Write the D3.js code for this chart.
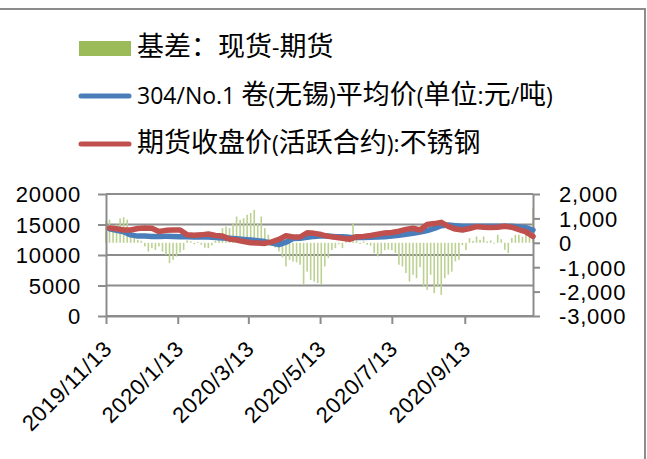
<!DOCTYPE html>
<html>
<head>
<meta charset="utf-8">
<script src="https://cdn.jsdelivr.net/npm/d3@7"></script>
<style>
  body { margin: 0; background: #fff; }
  svg { display: block; }
</style>
</head>
<body>
<svg id="chart" width="647" height="459"></svg>
<script>
// basis bars: one reading every 3 days from 2019/11/13
const barStart = '2019-11-13';
const barStep = 3;
const basis = [
  900, 950, 680, 750, 1000, 1050, 950, 600, 300, 120,
  80, -150, -360, -220, -290, -150, -360, -490, -830, -700,
  -560, -400, -290, 100, 60, -60, 40, -80, -200, -220,
  -100, 80, 400, 600, 670, 600, 810, 1080, 940, 1010,
  1150, 1220, 1350, 810, 1080, 600, 330, 100, -200, -360,
  -600, -970, -700, -770, -800, -900, -1720, -1180, -1520, -1590,
  -1650, -1720, -970, -630, -300, -220, -60, -220, 80, 300,
  810, 100, -50, 60, -80, -120, -420, -560, -450, -300,
  -280, -300, -420, -900, -970, -1240, -1590, -1310, -1450, -1000,
  -1800, -1930, -1310, -2060, -1800, -2130, -1450, -1300, -1180, -760,
  -700, -100, -300, 190, 80, 260, 120, 260, 60, 100,
  -40, 330, 150, -290, -420, 200, 330, 330, 250, 400,
  330, 1430
];

// price lines: one reading every 6 days from 2019/11/16
const lineStart = '2019-11-16';
const lineStep = 6;
const spotPrice = [
  14300, 14050, 13800, 13300, 13100, 13100, 13050, 13050, 13060, 13050,
  13000, 13000, 12970, 12950, 12950, 12850, 12800, 12730, 12650, 12550,
  12460, 12350, 12200, 11950, 11700, 12100, 12700, 12730, 12900, 13050,
  13170, 13100, 13000, 13000, 12900, 12850, 12850, 12900, 12950, 13000,
  13100, 13250, 13400, 13550, 13750, 14000, 14350, 14800, 14900, 14800,
  14700, 14700, 14700, 14700, 14700, 14700, 14700, 14700, 14600, 14480,
  14100
];
const futuresPrice = [
  14420, 14300, 14100, 14100, 14350, 14420, 14380, 13850, 14040, 14100,
  14100, 13300, 13250, 13300, 13450, 13200, 13100, 12600, 12450, 12200,
  12020, 11950, 11900, 12150, 12550, 13150, 12950, 12950, 13650, 13550,
  13350, 13050, 12900, 12750, 12570, 13000, 13050, 13200, 13400, 13600,
  13700, 13900, 14200, 14380, 14100, 15000, 15150, 15350, 14700, 14250,
  14100, 14350, 14650, 14550, 14500, 14550, 14700, 14550, 14150, 13800,
  13050
];

const xDomain = ['2019-11-13', '2020-11-10'];
const xTicks = ['2019-11-13', '2020-01-13', '2020-03-13', '2020-05-13', '2020-07-13', '2020-09-13'];
const leftTicks = [0, 5000, 10000, 15000, 20000];
const rightTicks = [-3000, -2000, -1000, 0, 1000, 2000];
const legendLabels = ['基差：现货-期货', '304/No.1 卷(无锡)平均价(单位:元/吨)', '期货收盘价(活跃合约):不锈钢'];

const parse = d3.timeParse('%Y-%m-%d');
const barDates = basis.map((d, i) => d3.timeDay.offset(parse(barStart), i * barStep));
const lineDates = spotPrice.map((d, i) => d3.timeDay.offset(parse(lineStart), i * lineStep));

const fontLatin = "'Open Sans', 'Noto Sans CJK SC', sans-serif";
const fontNum = "'Liberation Sans', Arial, sans-serif";
const gray = '#8c8c8c';
const plot = { left: 106, right: 533, top: 194, bottom: 316 };

const svg = d3.select('#chart');

// outer frame (only top and right edges show)
svg.append('rect')
  .attr('x', -5).attr('y', 9)
  .attr('width', 650).attr('height', 460)
  .attr('fill', 'none')
  .attr('stroke', gray)
  .attr('stroke-width', 2);

const x = d3.scaleTime()
  .domain(xDomain.map(parse))
  .range([plot.left, plot.right]);
const yLeft = d3.scaleLinear()
  .domain([0, 20000])
  .range([plot.bottom, plot.top]);
const yRight = d3.scaleLinear()
  .domain([-3000, 2000])
  .range([plot.bottom, plot.top]);

// gridlines
svg.append('g')
  .selectAll('line')
  .data(leftTicks)
  .enter()
  .append('line')
  .attr('x1', plot.left)
  .attr('x2', plot.right)
  .attr('y1', d => yLeft(d))
  .attr('y2', d => yLeft(d))
  .attr('stroke', gray)
  .attr('stroke-width', 2);

// basis bars
svg.append('g')
  .selectAll('rect')
  .data(basis)
  .enter()
  .append('rect')
  .attr('x', (d, i) => x(barDates[i]) - 0.8)
  .attr('y', d => yRight(Math.max(0, d)))
  .attr('width', 1.6)
  .attr('height', d => Math.abs(yRight(d) - yRight(0)))
  .attr('fill', '#bcd293');

const styleAxis = (g) => {
  g.select('.domain').attr('stroke', gray).attr('stroke-width', 2);
  g.selectAll('.tick line').attr('stroke', gray).attr('stroke-width', 2);
  g.selectAll('text')
    .attr('fill', '#000')
    .style('font-family', fontNum)
    .style('font-size', '22px')
    .style('letter-spacing', '0.8px');
};

const fmt = d3.formatLocale({ decimal: '.', thousands: ',', grouping: [3], currency: ['', ''], minus: '-' }).format(',');

svg.append('g')
  .attr('transform', `translate(${plot.left},0)`)
  .call(d3.axisLeft(yLeft).tickValues(leftTicks).tickFormat(d3.format('d')).tickSizeInner(8).tickSizeOuter(0).tickPadding(17))
  .call(styleAxis)
  .selectAll('text').attr('dy', '0.36em');

svg.append('g')
  .attr('transform', `translate(${plot.right},0)`)
  .call(d3.axisRight(yRight).tickValues(rightTicks).tickFormat(fmt).tickSizeInner(7).tickSizeOuter(0).tickPadding(19))
  .call(styleAxis)
  .selectAll('text').attr('dy', '0.36em');

svg.append('g')
  .attr('transform', `translate(0,${plot.bottom})`)
  .call(d3.axisBottom(x).tickValues(xTicks.map(parse)).tickFormat(d3.timeFormat('%Y/%-m/%-d')).tickSizeInner(8).tickSizeOuter(0))
  .call(styleAxis)
  .selectAll('text')
  .attr('x', 0).attr('y', 0).attr('dy', 0)
  .attr('transform', 'translate(7,34) rotate(-45)')
  .style('text-anchor', 'end');

// price lines
const line = (values) => d3.line()
  .x((d, i) => x(lineDates[i]))
  .y(d => yLeft(d))(values);

svg.append('path')
  .attr('d', line(spotPrice))
  .attr('fill', 'none')
  .attr('stroke', '#4a7ebb')
  .attr('stroke-width', 5.5)
  .attr('stroke-linejoin', 'round')
  .attr('stroke-linecap', 'round');

svg.append('path')
  .attr('d', line(futuresPrice))
  .attr('fill', 'none')
  .attr('stroke', '#c0504d')
  .attr('stroke-width', 5.5)
  .attr('stroke-linejoin', 'round')
  .attr('stroke-linecap', 'round');

// legend
const legend = svg.append('g');
legend.append('rect')
  .attr('x', 79).attr('y', 41)
  .attr('width', 52).attr('height', 15)
  .attr('fill', '#9bbb59');
legend.append('line')
  .attr('x1', 81).attr('x2', 129)
  .attr('y1', 96).attr('y2', 96)
  .attr('stroke', '#4a7ebb').attr('stroke-width', 5).attr('stroke-linecap', 'round');
legend.append('line')
  .attr('x1', 81).attr('x2', 129)
  .attr('y1', 144).attr('y2', 144)
  .attr('stroke', '#c0504d').attr('stroke-width', 5).attr('stroke-linecap', 'round');

const cjk = /([\u2e80-\u9fff\u3000-\u303f\uff00-\uffef]+)/;
legendLabels.forEach((label, i) => {
  const t = legend.append('text')
    .attr('x', 137)
    .attr('y', 56 + i * 48)
    .style('font-family', fontLatin)
    .attr('fill', '#000');
  label.split(cjk).filter(s => s.length).forEach(part => {
    t.append('tspan')
      .style('font-size', cjk.test(part) ? '27px' : '23px')
      .text(part);
  });
});
</script>
</body>
</html>
